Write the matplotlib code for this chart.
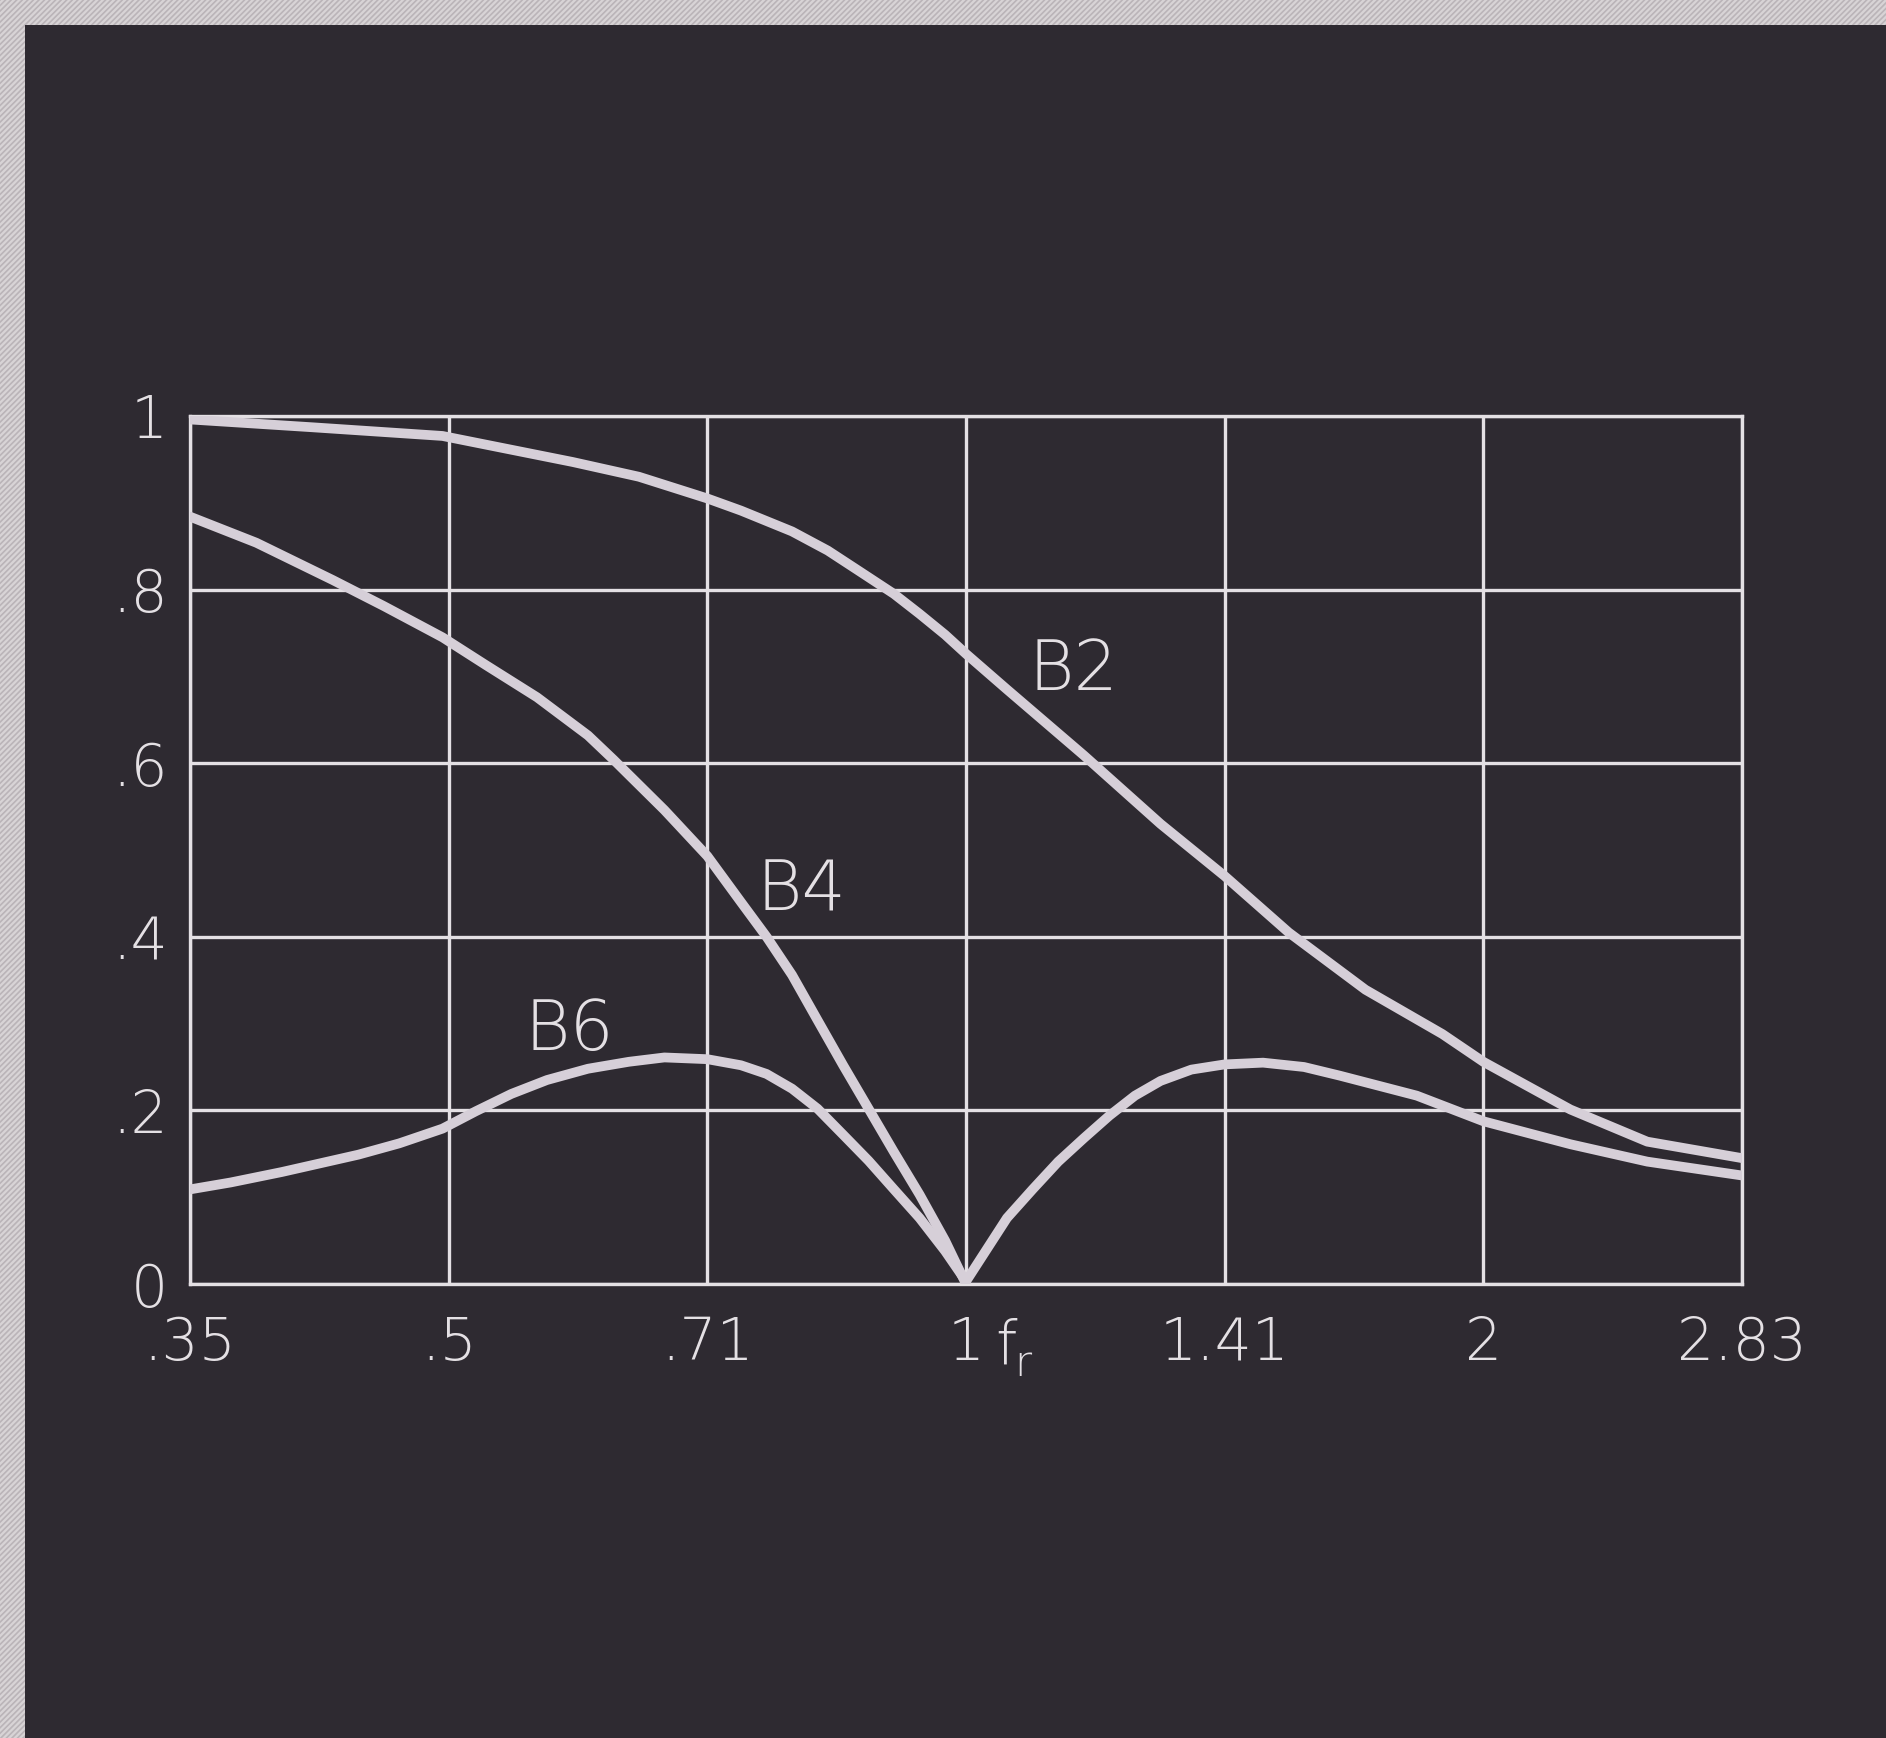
import matplotlib
matplotlib.use("Agg")
import matplotlib.pyplot as plt
from matplotlib.patches import Rectangle
from matplotlib.ticker import NullLocator

# ── Data (x = f / f_r, log axis) ────────────────────────────────
b2_x = [0.3536, 0.4166, 0.4959, 0.5904, 0.6452, 0.7071, 0.7397, 0.7921,
        0.8309, 0.8656, 0.908, 0.9397, 0.9724, 1.0, 1.0564, 1.1711, 1.2979,
        1.4142, 1.5409, 1.7079, 1.8931, 2.0, 2.2475, 2.4911, 2.8284]
b2_y = [0.996, 0.987, 0.977, 0.947, 0.930, 0.905, 0.891, 0.867,
        0.845, 0.822, 0.795, 0.772, 0.748, 0.726, 0.685, 0.609, 0.530,
        0.470, 0.405, 0.339, 0.288, 0.256, 0.201, 0.164, 0.145]

b4_x = [0.3536, 0.3864, 0.4281, 0.4584, 0.4959, 0.5256, 0.5628, 0.6026,
        0.6236, 0.6676, 0.7071, 0.7397, 0.7655, 0.7921, 0.8196, 0.8482,
        0.8776, 0.908, 0.9397, 0.9724, 1.0]
b4_y = [0.884, 0.854, 0.811, 0.781, 0.745, 0.713, 0.676, 0.632,
        0.604, 0.546, 0.493, 0.440, 0.400, 0.356, 0.304, 0.252,
        0.202, 0.152, 0.103, 0.050, 0.0]

b6_x = [0.3536, 0.3734, 0.3998, 0.4430, 0.4679, 0.4959, 0.5185, 0.5438,
        0.5704, 0.6026, 0.6365, 0.6676, 0.7071, 0.7397, 0.7655, 0.7921,
        0.8196, 0.8482, 0.8776, 0.908, 0.9397, 0.9724, 1.0,
        1.0564, 1.0933, 1.1316, 1.1711, 1.2119, 1.2541, 1.2979, 1.3525,
        1.4142, 1.4889, 1.5729, 1.6503, 1.8293, 2.0, 2.2475, 2.4911, 2.8284]
b6_y = [0.109, 0.117, 0.129, 0.149, 0.162, 0.179, 0.199, 0.219,
        0.235, 0.248, 0.256, 0.261, 0.259, 0.252, 0.242, 0.225,
        0.202, 0.172, 0.142, 0.109, 0.076, 0.038, 0.003,
        0.076, 0.109, 0.141, 0.168, 0.194, 0.217, 0.234, 0.247,
        0.253, 0.255, 0.250, 0.240, 0.217, 0.1875, 0.161, 0.141, 0.125]

x_ticks = [0.35355, 0.5, 0.7071, 1.0, 1.4142, 2.0, 2.8284]
x_labels = [".35", ".5", ".71", "1", "1.41", "2", "2.83"]
y_ticks = [0, 0.2, 0.4, 0.6, 0.8, 1.0]
y_labels = ["0", ".2", ".4", ".6", ".8", "1"]

curve_labels = [("B2", 1.155, 0.707), ("B4", 0.802, 0.452), ("B6", 0.588, 0.292)]

BORDER = "#d8d4d6"
PANEL = "#2e2a31"
INK = "#e4e0e4"
CURVE = "#d6cfd8"

plt.rcParams["hatch.color"] = "#bab4b8"
plt.rcParams["hatch.linewidth"] = 1.2

W, H = 1886, 1738
fig = plt.figure(figsize=(W / 100, H / 100), dpi=100)
fig.patch.set_facecolor(BORDER)

# hatched paper border + dark print panel
fig.patches.append(Rectangle((0, 0), 1, 1, transform=fig.transFigure,
                             facecolor=BORDER, edgecolor="#bab4b8", hatch="//////",
                             lw=0, zorder=-20))
fig.patches.append(Rectangle((25 / W, 0), 1, 1 - 25 / H, transform=fig.transFigure,
                             facecolor=PANEL, edgecolor="none", zorder=-10))

ax = fig.add_axes([190 / W, 1 - 1284 / H, (1742 - 190) / W, (1284 - 416) / H])
ax.set_facecolor(PANEL)
ax.set_xscale("log")
ax.set_xlim(0.35355, 2.8284)
ax.set_ylim(0, 1)

ax.xaxis.set_minor_locator(NullLocator())
ax.set_xticks(x_ticks)
ax.set_xticklabels(x_labels)
ax.set_yticks(y_ticks)
ax.set_yticklabels(y_labels)
ax.tick_params(length=0, labelsize=42, labelcolor=INK)
ax.tick_params(axis="x", pad=22)
ax.tick_params(axis="y", pad=16)
for lab in ax.get_xticklabels() + ax.get_yticklabels():
    lab.set_fontweight("light")

ax.grid(True, color=INK, lw=2.4)
for sp in ax.spines.values():
    sp.set_color(INK)
    sp.set_linewidth(2.4)

for xs, ys in [(b2_x, b2_y), (b4_x, b4_y), (b6_x, b6_y)]:
    ax.plot(xs, ys, color=CURVE, lw=7, solid_capstyle="round",
            solid_joinstyle="round", zorder=3)

for name, lx, ly in curve_labels:
    ax.text(lx, ly, name, color=INK, fontsize=50, fontweight="light",
            ha="center", va="center", zorder=4)

# "f" with subscript "r" after the "1" tick label
ax.annotate("f", xy=(1.0, 0), xycoords=("data", "axes fraction"),
            xytext=(21, -57), textcoords="offset points", ha="left", va="baseline",
            fontsize=44, fontweight="light", color=INK)
ax.annotate("r", xy=(1.0, 0), xycoords=("data", "axes fraction"),
            xytext=(35, -66), textcoords="offset points", ha="left", va="baseline",
            fontsize=30, fontweight="light", color=INK)

fig.savefig("out.png", dpi=100, facecolor=BORDER)
